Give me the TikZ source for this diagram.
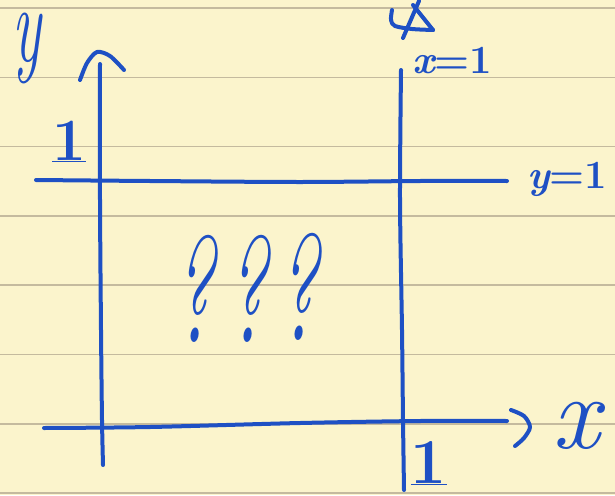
\documentclass[tikz,border=0pt]{standalone}
\usepackage{graphicx}
\definecolor{paper}{RGB}{251,244,204}
\definecolor{rule}{RGB}{196,186,158}
\definecolor{ink}{RGB}{30,80,196}
\tikzset{
  ink/.style={draw=ink, line width=4pt, line cap=round, line join=round},
  hand/.style={text=ink, inner sep=0pt},
}
\newcommand{\handsz}[1]{\fontsize{#1}{#1}\selectfont}
\begin{document}
\begin{tikzpicture}[x=1pt,y=-1pt]
\useasboundingbox (0,0) rectangle (615,495);
\fill[paper] (0,0) rectangle (615,495);
\foreach \k in {0,...,7}{
  \draw[rule, line width=1.6pt] (0,{8+69.3*\k}) -- (615,{8+69.3*\k});
}
% y axis
\draw[ink] plot[smooth] coordinates {(100,64) (100,200) (101,330) (102,420) (103,465)};
\draw[ink] plot[smooth] coordinates {(80,80) (87,63) (97,52) (110,56) (124,70)};
% x axis
\draw[ink] plot[smooth] coordinates {(44,428) (150,427) (300,423) (420,421) (507,421)};
\draw[ink] plot[smooth] coordinates {(511,410) (524,416) (530,427) (524,438) (515,446)};
% line y=1
\draw[ink] plot[smooth] coordinates {(36,180) (150,181) (300,182) (420,181) (507,181)};
% line x=1
\draw[ink] plot[smooth] coordinates {(401,70) (400,200) (402,330) (403,420) (404,490)};
% top scribble
\draw[ink] plot[smooth] coordinates {(392,10) (391,20) (395,26) (412,29) (433,30)};
\draw[ink] (433,30) -- (413,5);
\draw[ink] (419,1) -- (403,38);
% labels
\node[hand, font=\handsz{55}\itshape, anchor=base] (ylab) at (27,62) {\scalebox{1.1}[2]{y}};
\node[hand, font=\handsz{105}\itshape, anchor=base] (xlab) at (576,448) {x};
\node[hand, font=\handsz{40}\bfseries, anchor=base west] (x1) at (412,73) {\itshape x\upshape=1};
\node[hand, font=\handsz{40}\bfseries, anchor=base west] (y1) at (527,188) {\itshape y\upshape=1};
\node[hand, font=\handsz{60}\bfseries, anchor=base] (one1) at (69,160) {\underline{1}};
\node[hand, font=\handsz{64}\bfseries, anchor=base] (one2) at (429,483) {\underline{1}};
\node[hand, font=\handsz{150}\itshape, anchor=base] (q1) at (194,342) {\scalebox{0.55}[1]{?}};
\node[hand, font=\handsz{150}\itshape, anchor=base] (q2) at (247,342) {\scalebox{0.55}[1]{?}};
\node[hand, font=\handsz{150}\itshape, anchor=base] (q3) at (298,340) {\scalebox{0.55}[1]{?}};
\end{tikzpicture}
\end{document}
